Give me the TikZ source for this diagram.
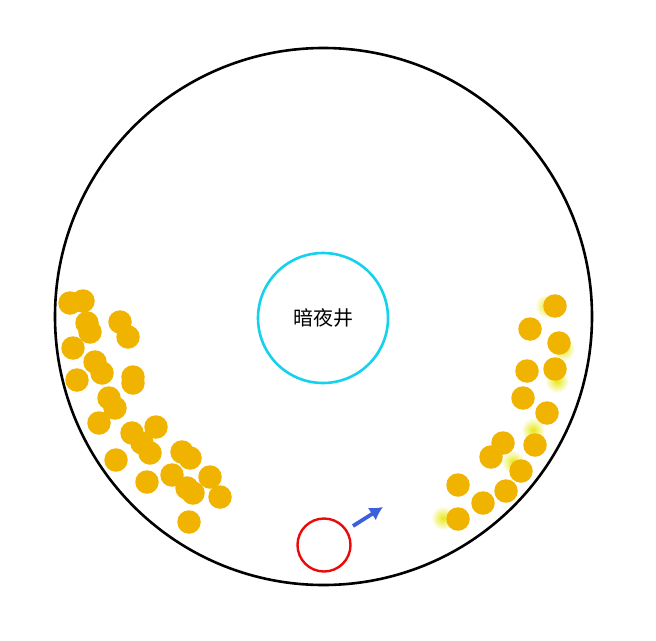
\documentclass[tikz,border=0pt]{standalone}
\usepackage{fontspec}
\usepackage{tikz}
\usetikzlibrary{arrows.meta,shapes,positioning}
\newfontfamily\cjk{Noto Sans CJK SC}
\definecolor{dotGold}   {RGB}{240, 180,   0}
\definecolor{glowYel}   {RGB}{232, 232,  20}
\definecolor{wellCyan}  {RGB}{ 20, 210, 235}
\definecolor{spawnRed}  {RGB}{235,  10,  10}
\definecolor{dirBlue}   {RGB}{ 60,  95, 220}

\begin{document}
\begin{tikzpicture}[x=1pt,y=-1pt,
        dot/.style={circle,fill=dotGold,inner sep=0pt,minimum size=23.5pt},
        glow/.style={circle,inner sep=0pt,minimum size=24pt,
                     shading=radial,inner color=glowYel,outer color=white},
        ring/.style={circle,draw=black,line width=2.6pt,inner sep=0pt,
                     minimum size=537pt},
        well/.style={circle,draw=wellCyan,line width=2.6pt,inner sep=0pt,
                     minimum size=130pt,font=\cjk\fontsize{20}{20}\selectfont},
        spawn/.style={circle,draw=spawnRed,line width=2.4pt,inner sep=0pt,
                      minimum size=53pt},
        dir/.style={draw=dirBlue,line width=3.8pt,
                    -{Latex[length=13pt,width=15pt]}}]

        \useasboundingbox (0,0) rectangle (656,640);

        % halos
        \foreach \x/\y [count=\i] in {547/306,563/349,557/381,533/430,
                                      513/462,443/518}{
          \node[glow] (h\i) at (\x,\y) {};
        }

        \node[ring] (arena) at (323.5,316.5) {};
        \node[well] (well) at (323,318) {暗夜井};
        \node[spawn] (spawn) at (324,545) {};

        % left group
        \foreach \x/\y [count=\i] in {70/303,83/301,87/323,90/332,120/322,
                                      128/337,73/348,95/362,102/373,77/380,
                                      133/377,133/383,109/398,115/408,99/423,
                                      156/427,132/433,142/443,150/453,116/460,
                                      182/452,190/458,147/482,172/475,187/488,
                                      193/493,210/477,220/497,189/522}{
          \node[dot] (l\i) at (\x,\y) {};
        }

        % right group
        \foreach \x/\y [count=\i] in {555/306,530/329,559/343,527/371,
                                      555/369,523/398,547/413,503/443,
                                      535/445,491/457,521/471,458/485,
                                      506/491,483/503,458/519}{
          \node[dot] (r\i) at (\x,\y) {};
        }

        \coordinate (dirS) at (353,526);
        \coordinate (dirE) at (383,507);
        \draw[dir] (dirS) -- (dirE);
      \end{tikzpicture}
\end{document}
